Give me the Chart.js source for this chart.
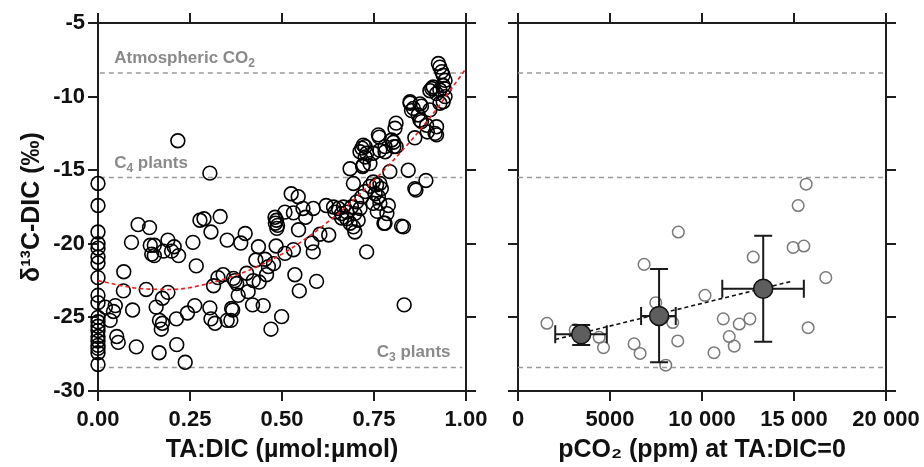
<!DOCTYPE html>
<html><head><meta charset="utf-8">
<script src="https://cdn.jsdelivr.net/npm/chart.js@4.4.1/dist/chart.umd.min.js"></script>
<style>
html,body{margin:0;padding:0;background:#fff;}
.panel{position:absolute;top:0;height:467px;}
</style></head><body>
<div style="position:relative;width:924px;height:467px;">
  <div class="panel" style="left:0;width:490px;"><canvas id="c1" width="490" height="467"></canvas></div>
  <div class="panel" style="left:490px;width:434px;"><canvas id="c2" width="434" height="467"></canvas></div>
</div>
<script>
// ---------------- DATA ----------------
// Left panel: TA:DIC vs d13C-DIC  [TA:DIC, d13C]
const leftPoints = [
[0,-15.9],[0,-17.4],[0,-19.2],[0,-20.0],[0,-20.3],[0,-20.9],[0,-21.3],[0,-22.3],[0,-23.5],[0,-24.0],
[0,-25.0],[0,-25.3],[0,-25.6],[0,-25.9],[0,-26.3],[0,-26.6],[0,-26.9],[0,-27.1],[0,-27.4],[0,-28.2],
[0.02,-24.3],[0.033,-25.2],[0.042,-24.6],[0.047,-24.2],[0.051,-26.3],[0.055,-26.7],[0.07,-21.9],[0.069,-23.2],
[0.091,-19.9],[0.094,-24.5],[0.104,-27.0],[0.109,-18.7],[0.131,-23.1],[0.14,-18.9],[0.142,-20.1],[0.153,-20.1],
[0.146,-20.7],[0.153,-20.8],[0.158,-24.3],[0.167,-25.2],[0.166,-27.4],[0.172,-25.8],[0.175,-25.4],[0.175,-23.7],
[0.178,-20.5],[0.19,-19.75],[0.19,-23.3],[0.2,-20.5],[0.207,-20.2],[0.213,-25.1],[0.214,-26.85],[0.219,-20.8],
[0.217,-13.0],[0.237,-28.05],[0.243,-24.7],[0.258,-19.9],[0.263,-24.2],[0.267,-21.5],[0.277,-18.4],[0.288,-18.3],
[0.304,-15.2],[0.304,-24.35],[0.307,-25.1],[0.307,-19.2],[0.314,-22.85],[0.318,-25.4],[0.326,-22.3],[0.332,-18.15],
[0.34,-22.1],[0.351,-19.75],[0.351,-25.2],[0.361,-25.2],[0.363,-24.4],[0.366,-24.5],[0.368,-22.35],[0.372,-22.5],
[0.377,-22.7],[0.381,-23.5],[0.388,-19.95],[0.4,-19.3],[0.404,-22.0],[0.408,-23.25],[0.42,-24.15],[0.422,-22.5],
[0.429,-21.1],[0.436,-20.2],[0.438,-22.6],[0.449,-24.2],[0.454,-21.05],[0.458,-22.1],[0.463,-21.55],[0.47,-25.8],
[0.477,-21.35],[0.484,-20.15],[0.482,-18.6],[0.481,-18.2],[0.485,-18.4],[0.488,-18.75],[0.486,-18.95],[0.499,-24.95],
[0.508,-20.65],[0.508,-17.85],[0.525,-16.6],[0.531,-20.4],[0.531,-17.9],[0.535,-22.1],[0.544,-16.8],[0.545,-19.05],
[0.547,-23.2],[0.557,-17.6],[0.564,-18.2],[0.581,-19.95],[0.585,-20.55],[0.585,-17.6],[0.594,-22.55],[0.603,-19.35],
[0.62,-17.4],[0.627,-19.4],[0.64,-17.5],[0.644,-17.85],[0.653,-17.6],[0.662,-18.25],[0.667,-17.5],[0.662,-17.95],
[0.676,-17.85],[0.676,-18.3],[0.685,-18.6],[0.689,-17.5],[0.694,-18.85],[0.698,-19.2],[0.698,-17.95],[0.703,-17.15],
[0.707,-18.4],[0.712,-17.6],[0.717,-16.8],[0.726,-16.45],[0.73,-20.55],[0.685,-14.9],[0.694,-15.9],[0.712,-13.75],
[0.717,-13.5],[0.721,-13.3],[0.726,-13.4],[0.721,-14.65],[0.726,-14.1],[0.719,-14.75],[0.739,-14.55],[0.73,-13.85],
[0.748,-13.85],[0.739,-16.1],[0.748,-15.8],[0.753,-16.6],[0.757,-16.0],[0.766,-15.9],[0.77,-16.25],[0.762,-16.8],
[0.766,-17.25],[0.748,-17.25],[0.759,-17.8],[0.785,-17.95],[0.789,-17.4],[0.777,-18.6],[0.78,-18.6],[0.762,-12.6],
[0.764,-12.75],[0.766,-13.65],[0.78,-13.75],[0.78,-13.4],[0.793,-15.1],[0.798,-12.95],[0.803,-13.1],[0.804,-13.4],
[0.807,-12.15],[0.81,-11.8],[0.81,-13.4],[0.825,-18.8],[0.83,-18.85],[0.832,-24.15],[0.843,-15.0],[0.848,-10.45],
[0.848,-10.35],[0.852,-10.95],[0.857,-10.8],[0.861,-12.8],[0.861,-16.25],[0.864,-16.35],[0.87,-11.25],[0.875,-10.5],
[0.875,-11.6],[0.879,-10.65],[0.879,-11.7],[0.893,-11.95],[0.891,-15.7],[0.895,-12.4],[0.902,-10.9],[0.902,-9.6],
[0.907,-9.45],[0.911,-9.35],[0.916,-12.5],[0.92,-12.05],[0.92,-12.6],[0.92,-9.8],[0.925,-7.75],[0.929,-8.0],
[0.929,-9.55],[0.929,-10.45],[0.934,-8.3],[0.938,-8.55],[0.938,-9.25],[0.938,-10.35],[0.941,-9.45],[0.943,-8.9],
[0.943,-10.0]
];
// red dashed fit curve
const fitX = [0, 0.1, 0.2, 0.3, 0.4, 0.5, 0.6, 0.7, 0.8, 0.9, 1.0];
const fitY = [-22.5, -23.0, -23.1, -22.7, -21.9, -20.7, -19.0, -16.9, -14.4, -11.5, -8.1];

// reference isotope levels
const refValues = [-8.4, -15.5, -28.4];
const refLabelMain = ['Atmospheric CO', 'C', 'C'];
const refLabelSub = ['2', '4', '3'];
const refLabelTail = ['', ' plants', ' plants'];

// Right panel: pCO2 at TA:DIC=0 vs d13C
const openX = [8714, 6853, 14954, 15535, 12784, 16728, 10163, 7488, 1573, 3109, 4411, 4645, 6310, 6636, 8410, 8682, 8030, 11156, 12024, 12605, 11481, 11752, 10651, 15768, 15660, 15226];
const openY = [-19.2, -21.4, -20.25, -20.15, -20.9, -22.3, -23.5, -24.0, -25.4, -25.85, -26.35, -27.05, -26.8, -27.45, -25.35, -26.6, -28.25, -25.1, -25.45, -25.1, -26.3, -26.95, -27.4, -25.7, -15.95, -17.4];
const meanX = [3435, 7667, 13327];
const meanY = [-26.15, -24.9, -23.05];
const meanXLow = [2024, 6690, 11102];
const meanXHigh = [4826, 8573, 15535];
const meanYLow = [-26.88, -28.05, -26.66];
const meanYHigh = [-25.52, -21.72, -19.46];
const trendX = [2024, 14867];
const trendY = [-26.5, -22.55];

// ticks
const yTickValues = [-30, -25, -20, -15, -10, -5];
const yTickLabels = ['-30', '-25', '-20', '-15', '-10', '-5'];
const xLeftTickValues = [0, 0.25, 0.5, 0.75, 1.0];
const xLeftTickLabels = ['0.00', '0.25', '0.50', '0.75', '1.00'];
const xRightTickValues = [0, 5000, 10000, 15000, 20000];
const xRightTickLabels = ['0', '5000', '10 000', '15 000', '20 000'];

// ---------------- STYLE ----------------
const FONT = "'Liberation Sans', Arial, Helvetica, sans-serif";
const AX = '#1e1e1e';
const REF = '#9a9a9a';

function gridOpts() {
  return {display: true, drawOnChartArea: false, drawTicks: true, tickLength: 10,
          tickWidth: 2, tickColor: AX, color: AX, lineWidth: 2};
}
function makeScale(pos, min, max, values, labels, showLabels, size, title) {
  const horiz = pos === 'top' || pos === 'bottom';
  return {
    type: 'linear', position: pos, min, max,
    afterBuildTicks: (s) => { s.ticks = values.map(v => ({value: v})); },
    ticks: {display: showLabels, autoSkip: false, maxRotation: 0, minRotation: 0,
            padding: horiz ? 6 : 3, color: '#111',
            font: {family: FONT, size: 22, weight: 'bold'},
            callback: (v, i) => labels ? labels[i] : ''},
    grid: gridOpts(),
    border: {display: true, color: AX, width: 2},
    title: title ? {display: true, text: title.text, color: '#111',
                    font: {family: FONT, size: 25, weight: 'bold'}, padding: title.padding}
                 : {display: false},
    afterFit: (s) => {
      if (horiz) { s.height = size; s.paddingLeft = 0; s.paddingRight = 0; }
      else { s.width = size; s.paddingTop = 0; s.paddingBottom = 0; }
    }
  };
}

function refLineDatasets(xmin, xmax) {
  return refValues.map(v => ({
    data: [{x: xmin, y: v}, {x: xmax, y: v}], showLine: true, pointRadius: 0,
    borderColor: REF, borderWidth: 1.5, borderDash: [5, 4], fill: false
  }));
}

const refLabelPlugin = {
  id: 'refLabels',
  afterDatasetsDraw(chart) {
    const {ctx, scales: {x, y}} = chart;
    const anchors = [0.044, 0.044, 0.958];
    const aligns = ['left', 'left', 'right'];
    ctx.save();
    ctx.fillStyle = '#8a8a8a';
    ctx.textBaseline = 'alphabetic';
    refValues.forEach((v, i) => {
      const bigF = 'bold 17px ' + FONT, smallF = 'bold 12px ' + FONT;
      ctx.font = bigF; const w1 = ctx.measureText(refLabelMain[i]).width;
      const w3 = ctx.measureText(refLabelTail[i]).width;
      ctx.font = smallF; const w2 = ctx.measureText(refLabelSub[i]).width;
      const total = w1 + w2 + w3;
      let px = x.getPixelForValue(anchors[i]);
      if (aligns[i] === 'right') px -= total;
      const py = y.getPixelForValue(v) - 10;
      ctx.textAlign = 'left';
      ctx.font = bigF; ctx.fillText(refLabelMain[i], px, py);
      ctx.font = smallF; ctx.fillText(refLabelSub[i], px + w1, py + 4);
      ctx.font = bigF; ctx.fillText(refLabelTail[i], px + w1 + w2, py);
    });
    ctx.restore();
  }
};

const errorBarPlugin = {
  id: 'errorBars',
  beforeDatasetDraw(chart, args) {
    if (args.index !== 0) return;
    const {ctx, scales: {x, y}} = chart;
    const cap = 9;
    ctx.save();
    ctx.strokeStyle = '#1a1a1a';
    ctx.lineWidth = 2;
    meanX.forEach((mx, i) => {
      const px = x.getPixelForValue(mx), py = y.getPixelForValue(meanY[i]);
      const xl = x.getPixelForValue(meanXLow[i]), xh = x.getPixelForValue(meanXHigh[i]);
      const yl = y.getPixelForValue(meanYLow[i]), yh = y.getPixelForValue(meanYHigh[i]);
      ctx.beginPath();
      ctx.moveTo(xl, py); ctx.lineTo(xh, py);
      ctx.moveTo(xl, py - cap); ctx.lineTo(xl, py + cap);
      ctx.moveTo(xh, py - cap); ctx.lineTo(xh, py + cap);
      ctx.moveTo(px, yl); ctx.lineTo(px, yh);
      ctx.moveTo(px - cap, yl); ctx.lineTo(px + cap, yl);
      ctx.moveTo(px - cap, yh); ctx.lineTo(px + cap, yh);
      ctx.stroke();
    });
    ctx.restore();
  }
};

const common = {
  responsive: false, animation: false, devicePixelRatio: 1,
  layout: {padding: 0},
  plugins: {legend: {display: false}, tooltip: {enabled: false}, title: {display: false}}
};

// ---------------- LEFT CHART ----------------
new Chart(document.getElementById('c1'), {
  type: 'scatter',
  data: {datasets: [
    {data: fitX.map((v, i) => ({x: v, y: fitY[i]})), showLine: true, pointRadius: 0,
     borderColor: '#ee1c1c', borderWidth: 1.6, borderDash: [4, 3], tension: 0.4,
     cubicInterpolationMode: 'monotone', fill: false},
    {data: leftPoints.map(p => ({x: p[0], y: p[1]})), pointRadius: 6.9, pointBorderWidth: 1.6,
     pointBorderColor: '#000', pointBackgroundColor: 'rgba(0,0,0,0)', clip: false},
    ...refLineDatasets(0.005, 0.99)
  ]},
  options: Object.assign({}, common, {
    scales: {
      x: makeScale('bottom', 0, 1, xLeftTickValues, xLeftTickLabels, true, 76,
                   {text: 'TA:DIC (\u00b5mol:\u00b5mol)', padding: {top: 0, bottom: 2}}),
      x2: makeScale('top', 0, 1, xLeftTickValues, null, false, 23),
      y: makeScale('left', -30, -5, yTickValues, yTickLabels, true, 98,
                   {text: '\u03b4\u00b9\u00b3C-DIC (\u2030)', padding: {top: 17, bottom: 0}}),
      y2: makeScale('right', -30, -5, yTickValues, null, false, 24)
    }
  }),
  plugins: [refLabelPlugin]
});

// ---------------- RIGHT CHART ----------------
new Chart(document.getElementById('c2'), {
  type: 'scatter',
  data: {datasets: [
    {data: meanX.map((v, i) => ({x: v, y: meanY[i]})), pointRadius: 9.5, pointBorderWidth: 1.5,
     pointBorderColor: '#111', pointBackgroundColor: '#5e5e5e', clip: false},
    {data: trendX.map((v, i) => ({x: v, y: trendY[i]})), showLine: true, pointRadius: 0,
     borderColor: '#111', borderWidth: 1.6, borderDash: [4, 3], fill: false},
    {data: openX.map((v, i) => ({x: v, y: openY[i]})), pointRadius: 5.8, pointBorderWidth: 1.5,
     pointBorderColor: '#7a7a7a', pointBackgroundColor: 'rgba(255,255,255,0)', clip: false},
    ...refLineDatasets(0, 20000)
  ]},
  options: Object.assign({}, common, {
    scales: {
      x: makeScale('bottom', 0, 20000, xRightTickValues, xRightTickLabels, true, 76,
                   {text: 'pCO\u2082 (ppm) at TA:DIC=0', padding: {top: 0, bottom: 2}}),
      x2: makeScale('top', 0, 20000, xRightTickValues, null, false, 23),
      y: makeScale('left', -30, -5, yTickValues, null, false, 28),
      y2: makeScale('right', -30, -5, yTickValues, null, false, 38)
    }
  }),
  plugins: [errorBarPlugin]
});
</script>
</body></html>
